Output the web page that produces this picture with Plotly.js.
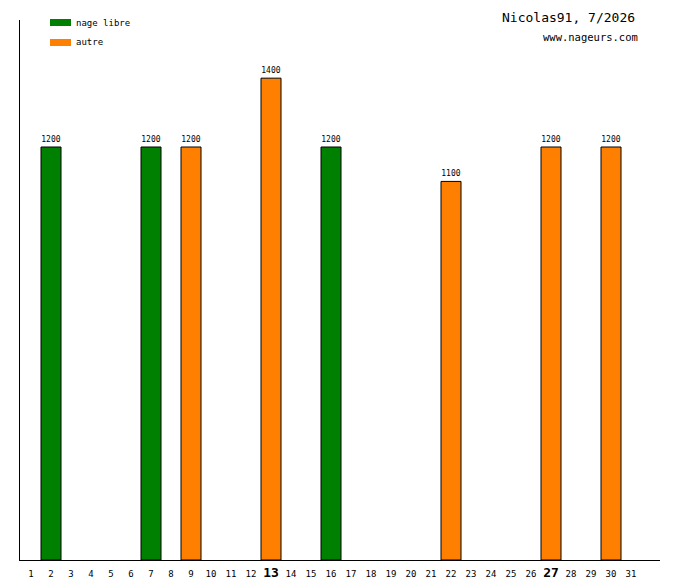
<!DOCTYPE html>
<html>
<head>
<meta charset="utf-8">
<script src="https://cdn.plot.ly/plotly-3.0.1.min.js"></script>
<style>
  html, body { margin: 0; padding: 0; background: #ffffff; }
  #chart { width: 680px; height: 580px; }
</style>
</head>
<body>
<div id="chart"></div>
<script>
// Swims of the month, one bar per day
const days = Array.from({ length: 31 }, (_, i) => i + 1);
const boldDays = [13, 27];

const freeDays = [2, 7, 16];
const freeMeters = [1200, 1200, 1200];

const otherDays = [9, 13, 22, 27, 30];
const otherMeters = [1200, 1400, 1100, 1200, 1200];

const green = "#008000";
const orange = "#ff8000";
const mono = "DejaVu Sans Mono, monospace";

const tickText = days.map(d =>
  boldDays.includes(d)
    ? `<b><span style="font-size:13px">${d}</span></b>`
    : String(d)
);

function barTrace(x, y, color, name) {
  return {
    type: "bar",
    x: x,
    y: y,
    name: name,
    width: 1,
    marker: { color: color, line: { color: "#000000", width: 1 } },
    text: y.map(String),
    textposition: "outside",
    cliponaxis: false,
    textfont: { family: mono, size: 8, color: "#000000" },
    hoverinfo: "skip",
    showlegend: false,
  };
}

const data = [
  barTrace(freeDays, freeMeters, green, "nage libre"),
  barTrace(otherDays, otherMeters, orange, "autre"),
];

const layout = {
  width: 680,
  height: 580,
  margin: { t: 20, l: 20, r: 20, b: 20 },
  paper_bgcolor: "#ffffff",
  plot_bgcolor: "#ffffff",
  barmode: "overlay",
  showlegend: false,
  font: { family: mono, color: "#000000" },
  xaxis: {
    range: [0.45, 32.45],
    tickvals: days,
    ticktext: tickText,
    tickfont: { family: mono, size: 9, color: "#000000" },
    ticks: "",
    ticklen: 0,
    ticklabelstandoff: 5,
    showgrid: false,
    zeroline: false,
    showline: true,
    linecolor: "#000000",
    linewidth: 1,
    fixedrange: true,
  },
  yaxis: {
    range: [0, 1569],
    showticklabels: false,
    ticks: "",
    showgrid: false,
    zeroline: false,
    showline: true,
    linecolor: "#000000",
    linewidth: 1,
    fixedrange: true,
  },
  // legend swatches drawn by hand, top-left
  shapes: [
    { type: "rect", xref: "paper", yref: "paper",
      x0: 30 / 640, x1: 51 / 640, y0: (560 - 26) / 540, y1: (560 - 19) / 540,
      fillcolor: green, line: { width: 0 } },
    { type: "rect", xref: "paper", yref: "paper",
      x0: 30 / 640, x1: 51 / 640, y0: (560 - 46) / 540, y1: (560 - 39) / 540,
      fillcolor: orange, line: { width: 0 } },
  ],
  annotations: [
    { text: "nage libre", xref: "paper", yref: "paper",
      x: 54 / 640, y: (560 - 22.5) / 540, xanchor: "left", yanchor: "middle",
      showarrow: false, font: { family: mono, size: 9 } },
    { text: "autre", xref: "paper", yref: "paper",
      x: 54 / 640, y: (560 - 42.5) / 540, xanchor: "left", yanchor: "middle",
      showarrow: false, font: { family: mono, size: 9 } },
    { text: "Nicolas91, 7/2026", xref: "paper", yref: "paper",
      x: 617 / 640, y: (560 - 18) / 540, xanchor: "right", yanchor: "middle",
      showarrow: false, font: { family: mono, size: 13 } },
    { text: "www.nageurs.com", xref: "paper", yref: "paper",
      x: 620 / 640, y: (560 - 37) / 540, xanchor: "right", yanchor: "middle",
      showarrow: false, font: { family: mono, size: 10.5 } },
  ],
};

Plotly.newPlot("chart", data, layout, { displayModeBar: false, staticPlot: true });
</script>
</body>
</html>
